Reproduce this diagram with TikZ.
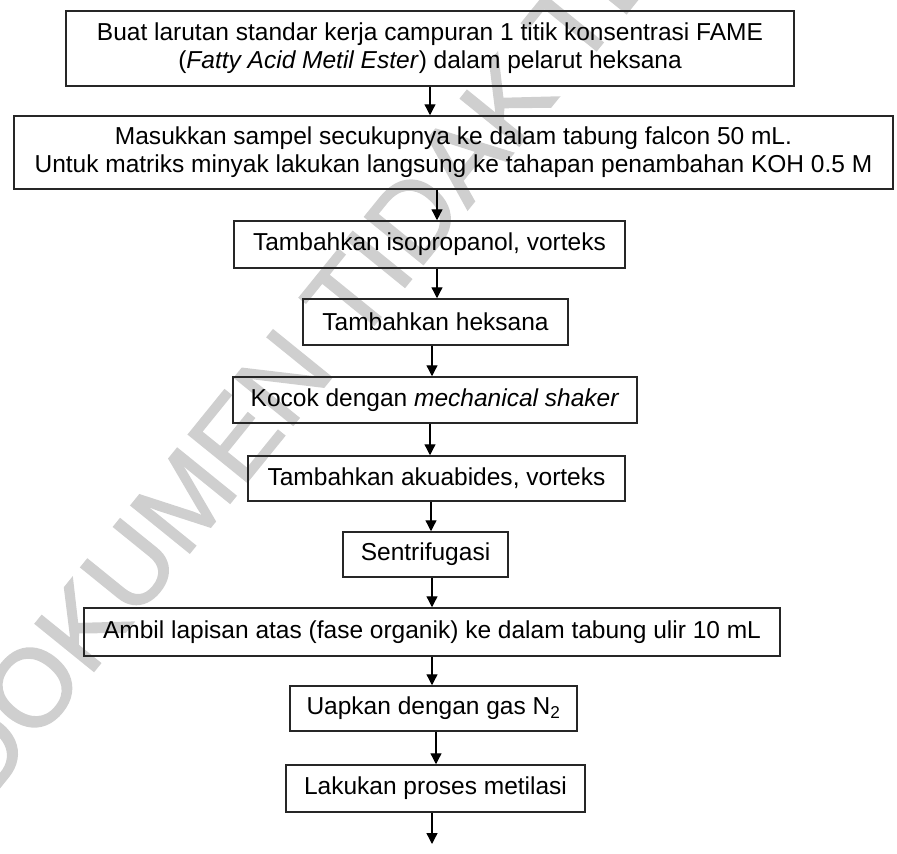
\documentclass[tikz,border=0pt]{standalone}
\usepackage{fontspec}
\setmainfont{Liberation Sans}
\newfontfamily\wmfont[FakeBold=1.5]{Liberation Sans}
\usetikzlibrary{arrows.meta}

\begin{document}
\begin{tikzpicture}[x=1bp,y=-1bp,
  stepbox/.style={draw=black!85, line width=1.5bp, inner sep=0pt, align=center,
    font=\fontsize{24.6pt}{28pt}\selectfont},
  flow/.style={line width=1.3bp, -{Triangle[length=11bp,width=11bp]}},
  wmark/.style={text=black!19, inner sep=0pt, font=\wmfont\fontsize{110pt}{110pt}\selectfont}]

  % page frame
  \useasboundingbox (0,0) rectangle (897,854);

  % watermark behind the flowchart
  \node[wmark, rotate=51] (wm) at (469,148) {DOKUMEN TIDAK TERKENDALI};

  % process steps
  \node[stepbox, minimum width=728bp, minimum height=75bp] (b1) at (430,48.5)
    {Buat larutan standar kerja campuran 1 titik konsentrasi FAME\\
     (\textit{Fatty Acid Metil Ester}) dalam pelarut heksana};
  \node[stepbox, minimum width=879bp, minimum height=73bp] (b2) at (453.5,152.5)
    {Masukkan sampel secukupnya ke dalam tabung falcon 50 mL.\\
     Untuk matriks minyak lakukan langsung ke tahapan penambahan KOH 0.5 M};
  \node[stepbox, minimum width=391bp, minimum height=47bp] (b3) at (429.5,244.5)
    {Tambahkan isopropanol, vorteks};
  \node[stepbox, minimum width=265bp, minimum height=46bp] (b4) at (435.5,322)
    {Tambahkan heksana};
  \node[stepbox, minimum width=404bp, minimum height=46bp] (b5) at (435,400)
    {Kocok dengan \textit{mechanical shaker}};
  \node[stepbox, minimum width=377bp, minimum height=45bp] (b6) at (436.5,478.5)
    {Tambahkan akuabides, vorteks};
  \node[stepbox, minimum width=165bp, minimum height=45bp] (b7) at (425.5,554.5)
    {Sentrifugasi};
  \node[stepbox, minimum width=696bp, minimum height=48bp] (b8) at (432,632)
    {Ambil lapisan atas (fase organik) ke dalam tabung ulir 10 mL};
  \node[stepbox, minimum width=287bp, minimum height=45bp] (b9) at (433.5,708.5)
    {Uapkan dengan gas N\textsubscript{2}};
  \node[stepbox, minimum width=299bp, minimum height=47bp] (b10) at (435.5,788.5)
    {Lakukan proses metilasi};

  % arrow columns
  \coordinate (a1) at (430,0);
  \coordinate (a2) at (437,0);
  \coordinate (a3) at (437,0);
  \coordinate (a4) at (432,0);
  \coordinate (a5) at (430,0);
  \coordinate (a6) at (431,0);
  \coordinate (a7) at (432,0);
  \coordinate (a8) at (432,0);
  \coordinate (a9) at (436,0);
  \coordinate (next) at (432,844);

  % connectors
  \draw[flow] (b1.south -| a1) -- (b2.north -| a1);
  \draw[flow] (b2.south -| a2) -- (b3.north -| a2);
  \draw[flow] (b3.south -| a3) -- (b4.north -| a3);
  \draw[flow] (b4.south -| a4) -- (b5.north -| a4);
  \draw[flow] (b5.south -| a5) -- (b6.north -| a5);
  \draw[flow] (b6.south -| a6) -- (b7.north -| a6);
  \draw[flow] (b7.south -| a7) -- (b8.north -| a7);
  \draw[flow] (b8.south -| a8) -- (b9.north -| a8);
  \draw[flow] (b9.south -| a9) -- (b10.north -| a9);
  \draw[flow] (b10.south -| next) -- (next);
\end{tikzpicture}
\end{document}
